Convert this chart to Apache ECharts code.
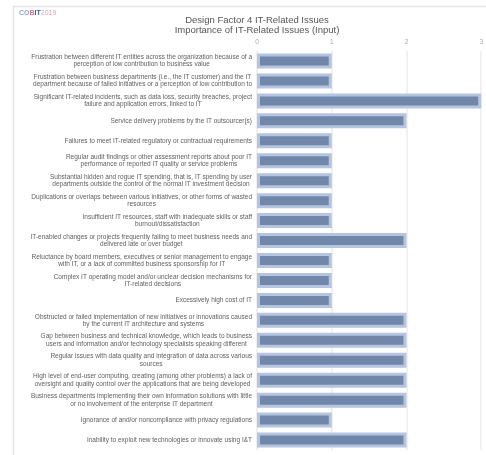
<!DOCTYPE html>
<html>
<head>
<meta charset="utf-8">
<script src="https://cdn.jsdelivr.net/npm/echarts@6/dist/echarts.min.js"></script>
<style>
  html, body { margin: 0; padding: 0; background: #fff; }
  #chart { width: 486px; height: 455px; }
</style>
</head>
<body>
<div id="chart"></div>
<script>
// IT-related issues (Design Factor 4), top to bottom
const issues = [
  'Frustration between different IT entities across the organization because of a perception of low contribution to business value',
  'Frustration between business departments (i.e., the IT customer) and the IT department because of failed initiatives or a perception of low contribution to business value',
  'Significant IT-related incidents, such as data loss, security breaches, project failure and application errors, linked to IT',
  'Service delivery problems by the IT outsourcer(s)',
  'Failures to meet IT-related regulatory or contractual requirements',
  'Regular audit findings or other assessment reports about poor IT performance or reported IT quality or service problems',
  'Substantial hidden and rogue IT spending, that is, IT spending by user departments outside the control of the normal IT investment decision mechanisms and approved budgets',
  'Duplications or overlaps between various initiatives, or other forms of wasted resources',
  'Insufficient IT resources, staff with inadequate skills or staff burnout/dissatisfaction',
  'IT-enabled changes or projects frequently failing to meet business needs and delivered late or over budget',
  'Reluctance by board members, executives or senior management to engage with IT, or a lack of committed business sponsorship for IT',
  'Complex IT operating model and/or unclear decision mechanisms for IT-related decisions',
  'Excessively high cost of IT',
  'Obstructed or failed implementation of new initiatives or innovations caused by the current IT architecture and systems',
  'Gap between business and technical knowledge, which leads to business users and information and/or technology specialists speaking different languages',
  'Regular issues with data quality and integration of data across various sources',
  'High level of end-user computing, creating (among other problems) a lack of oversight and quality control over the applications that are being developed and put in operation',
  'Business departments implementing their own information solutions with little or no involvement of the enterprise IT department',
  'Ignorance of and/or noncompliance with privacy regulations',
  'Inability to exploit new technologies or innovate using I&T'
];

// Importance rating per issue
const importance = [1, 1, 3, 2, 1, 1, 1, 1, 1, 2, 1, 1, 1, 2, 2, 2, 2, 2, 1, 2];

// Value axis tick labels
const tickLabels = ['0', '1', '2', '3'];

const titleLines = ['Design Factor 4 IT-Related Issues', 'Importance of IT-Related Issues (Input)'];

const FONT = 'Liberation Sans';
const LABEL_SIZE = 6.5;
const WRAP_WIDTH = 224;

// Word-wrap a label into at most two lines of the given pixel width
const measureCtx = document.createElement('canvas').getContext('2d');
measureCtx.font = LABEL_SIZE + 'px "' + FONT + '"';
function wrapLabel(text) {
  const words = text.split(' ');
  const lines = [];
  let cur = '';
  for (const w of words) {
    const t = cur ? cur + ' ' + w : w;
    if (measureCtx.measureText(t).width > WRAP_WIDTH && cur) {
      lines.push(cur);
      cur = w;
    } else {
      cur = t;
    }
  }
  if (cur) lines.push(cur);
  return lines.slice(0, 2).join('\n');
}

const chart = echarts.init(document.getElementById('chart'), null, { renderer: 'canvas' });

chart.setOption({
  animation: false,
  backgroundColor: '#ffffff',
  textStyle: { fontFamily: FONT },
  graphic: [
    {
      type: 'rect',
      shape: { x: 13.5, y: 6.5, width: 500, height: 470 },
      style: { fill: 'none', stroke: '#e6e6e6', lineWidth: 1.5 },
      silent: true
    },
    {
      type: 'text',
      left: 19,
      top: 10,
      style: {
        text: '{a|CO}{b|B}{c|IT}{d|2019}',
        rich: {
          a: { fill: '#8fa6cf', fontSize: 7, fontWeight: 'bold', fontFamily: FONT },
          b: { fill: '#d4708f', fontSize: 7, fontWeight: 'bold', fontFamily: FONT },
          c: { fill: '#3d5f9e', fontSize: 7, fontWeight: 'bold', fontFamily: FONT },
          d: { fill: '#e2a3b8', fontSize: 7, fontFamily: FONT }
        }
      }
    }
  ],
  title: {
    text: titleLines.join('\n'),
    left: 252,
    textAlign: 'center',
    top: 10,
    textStyle: {
      fontFamily: FONT,
      fontSize: 9.5,
      fontWeight: 'normal',
      color: '#555555',
      lineHeight: 10.5
    }
  },
  grid: {
    left: 257,
    right: 4.5,
    top: 51,
    bottom: 5,
    containLabel: false
  },
  xAxis: {
    type: 'value',
    position: 'top',
    min: 0,
    max: 3,
    interval: 1,
    axisLine: { show: false },
    axisTick: { show: false },
    axisLabel: {
      margin: 5,
      fontSize: 6.5,
      color: '#a8a8a8',
      fontFamily: FONT,
      formatter: (v) => tickLabels[v]
    },
    splitLine: { show: true, lineStyle: { color: '#ececec', width: 1.5 } }
  },
  yAxis: {
    type: 'category',
    inverse: true,
    data: issues,
    axisLine: { show: false },
    axisTick: { show: false },
    axisLabel: {
      margin: 5,
      interval: 0,
      align: 'right',
      formatter: (v) => '{c|' + wrapLabel(v) + '}',
      rich: {
        c: {
          align: 'center',
          fontSize: LABEL_SIZE,
          lineHeight: 7.2,
          color: '#606060',
          fontFamily: FONT
        }
      }
    }
  },
  series: [
    {
      type: 'bar',
      data: importance,
      barWidth: 15,
      itemStyle: {
        color: '#7087aa',
        borderColor: '#b5c4df',
        borderWidth: 3
      }
    }
  ]
});
</script>
</body>
</html>
